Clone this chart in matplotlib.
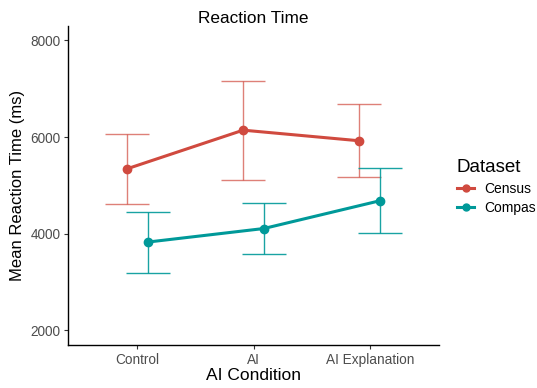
import matplotlib
matplotlib.use("Agg")
import matplotlib.pyplot as plt
from matplotlib.lines import Line2D

plt.rcParams['font.family'] = ['Liberation Sans', 'DejaVu Sans']

conditions = ["Control", "AI", "AI Explanation"]
census_mean = [5344, 6145, 5925]
census_low = [4624, 5124, 5179]
census_high = [6057, 7166, 6679]
compas_mean = [3829, 4110, 4686]
compas_low = [3186, 3590, 4014]
compas_high = [4460, 4630, 5358]

yticks = [2000, 4000, 6000, 8000]

census_col = "#D04A3F"
compas_col = "#009999"

fig = plt.figure(figsize=(5.37, 3.88), dpi=100)
ax = fig.add_axes([68/537, 1-345/388, (439-68)/537, (345-26)/388])

x = list(range(1, len(conditions)+1))
dodge = 0.089
series = [
    ("Census", census_mean, census_low, census_high, census_col, -dodge, 0.7),
    ("Compas", compas_mean, compas_low, compas_high, compas_col, dodge, 0.9),
]
for name, m, lo, hi, col, off, ea in series:
    xs = [xi + off for xi in x]
    yerr = [[mm - l for mm, l in zip(m, lo)], [h - mm for mm, h in zip(m, hi)]]
    ax.errorbar(xs, m, yerr=yerr, fmt='none', ecolor=col, elinewidth=1.0,
                capsize=16, capthick=1.0, alpha=ea, zorder=2)
    ax.plot(xs, m, color=col, linewidth=2.2, marker='o', markersize=6, zorder=3, label=name)

ax.set_xlim(0.405, 3.595)
ax.set_ylim(1700, 8300)
ax.set_xticks(x)
ax.set_xticklabels(conditions)
ax.set_yticks(yticks)
ax.tick_params(axis='both', colors='#333333', labelcolor='#4D4D4D', labelsize=9.8, length=3, width=0.8, pad=2.5)
for s in ['top', 'right']:
    ax.spines[s].set_visible(False)
for s in ['left', 'bottom']:
    ax.spines[s].set_linewidth(1.0)
    ax.spines[s].set_color('black')

ax.set_title("Reaction Time", fontsize=12.4, pad=2.5)
ax.set_xlabel("AI Condition", fontsize=12.5, labelpad=1)
ax.set_ylabel("Mean Reaction Time (ms)", fontsize=12, labelpad=4)

handles = [Line2D([0], [0], color=census_col, lw=2.2, marker='o', markersize=5),
           Line2D([0], [0], color=compas_col, lw=2.2, marker='o', markersize=5)]
fig.legend(handles, ["Census", "Compas"], title="Dataset", loc='upper left',
           bbox_to_anchor=(457/537, 1-159/388), frameon=False, fontsize=10,
           title_fontsize=13.5, handlelength=1.25, handletextpad=0.7, labelspacing=0.4,
           borderpad=0, borderaxespad=0, alignment='left')

fig.savefig("out.png", dpi=100)
